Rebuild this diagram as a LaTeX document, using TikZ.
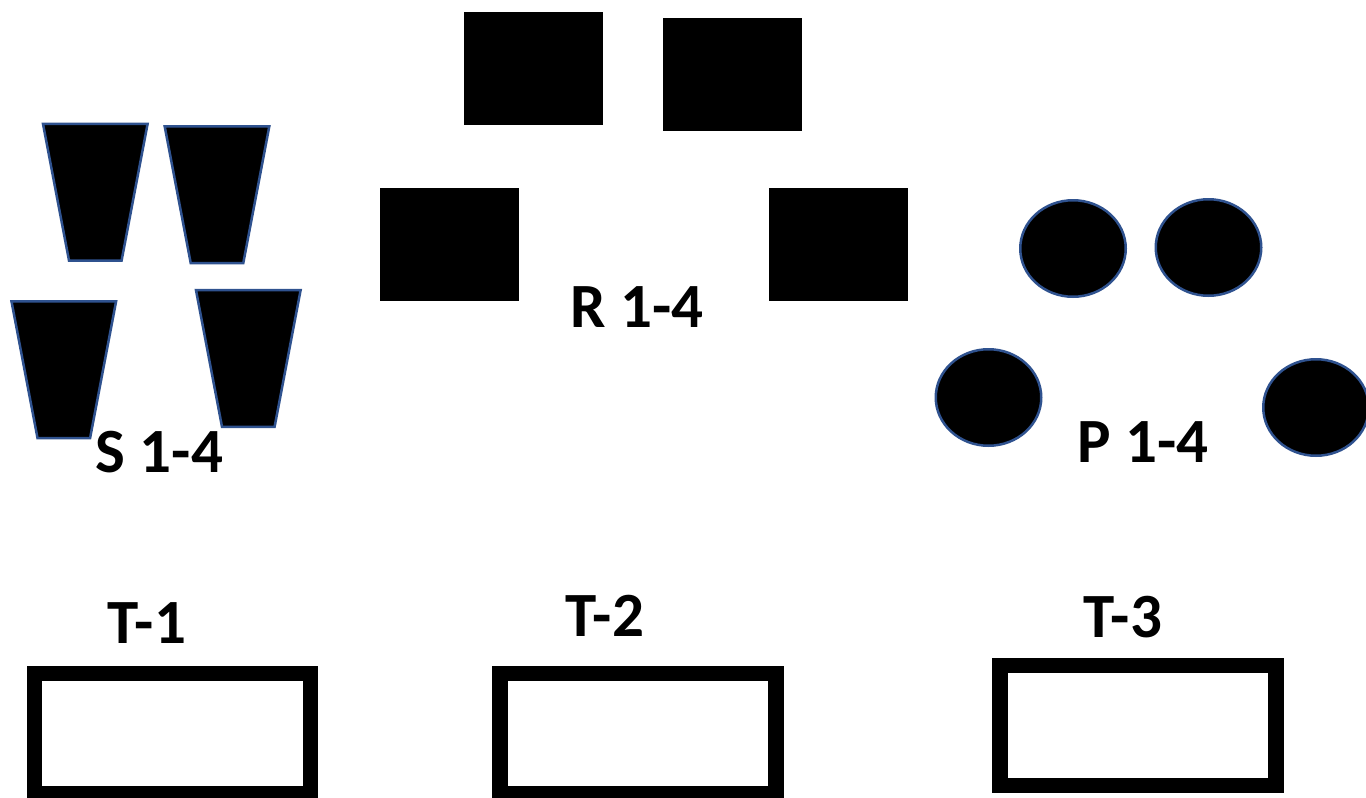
\documentclass[tikz,border=0pt]{standalone}
\usepackage{fontspec}
\setmainfont{Carlito}
\usepackage{tikz}
\usetikzlibrary{positioning}
\usetikzlibrary{shapes.geometric}
\definecolor{edgeblue}{HTML}{2F528F}

\begin{document}
\begin{tikzpicture}[x = 1pt, y = -1pt,
        sbox/.style = {fill = black, draw = edgeblue, line width = 2.5pt},
        rbox/.style = {rectangle, fill = black, minimum width = 139pt,
            minimum height = 113pt, inner sep = 0pt},
        pbox/.style = {ellipse, fill = black, draw = edgeblue, line width = 2.5pt,
            minimum width = 105.5pt, minimum height = 96.5pt, inner sep = 0pt},
        tbox/.style = {rectangle, draw = black, line width = 15.5pt,
            minimum width = 276pt, minimum height = 120pt, inner sep = 0pt},
        lbl/.style = {font = \bfseries\fontsize{63}{76}\selectfont,
            inner sep = 0pt, anchor = base}
        ]
        \useasboundingbox (0,0) rectangle (1366,798);
        % S group
        \draw[sbox, shift = {(95.3,192.2)}] (-52.3,-68.3) -- (52.3,-68.3) -- (26.3,68.3) -- (-26.3,68.3) -- cycle;
        \draw[sbox, shift = {(217,194.7)}] (-52.3,-68.3) -- (52.3,-68.3) -- (26.3,68.3) -- (-26.3,68.3) -- cycle;
        \draw[sbox, shift = {(63.8,369.7)}] (-52.3,-68.3) -- (52.3,-68.3) -- (26.3,68.3) -- (-26.3,68.3) -- cycle;
        \draw[sbox, shift = {(248.3,358.5)}] (-52.3,-68.3) -- (52.3,-68.3) -- (26.3,68.3) -- (-26.3,68.3) -- cycle;
        \node (slbl) [lbl] at (159.5,472) {S 1-4};
        % R group
        \node (r1) [rbox] at (533,68) {};
        \node (r2) [rbox] at (732,74) {};
        \node (r3) [rbox] at (449.5,244.5) {};
        \node (r4) [rbox] at (838.5,244.5) {};
        \node (rlbl) [lbl] at (637,327) {R 1-4};
        % P group
        \node (p1) [pbox] at (1073,248.5) {};
        \node (p2) [pbox] at (1208.5,247.5) {};
        \node (p3) [pbox] at (988.5,397.5) {};
        \node (p4) [pbox] at (1316,407.5) {};
        \node (plbl) [lbl] at (1143,462) {P 1-4};
        % T boxes
        \node (t1) [tbox] at (172.5,733.6) {};
        \node (t2) [tbox] at (638,733.6) {};
        \node (t3) [tbox] at (1138,725.5) {};
        \node (t1lbl) [lbl] at (147,643) {T-1};
        \node (t2lbl) [lbl] at (605,636) {T-2};
        \node (t3lbl) [lbl] at (1123,637) {T-3};
\end{tikzpicture}
\end{document}
